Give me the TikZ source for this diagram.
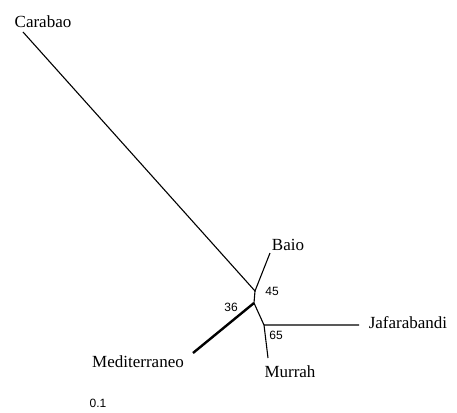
\documentclass[tikz,border=0pt]{standalone}
\usepackage{fontspec}
\setmainfont{Liberation Serif}
\newfontfamily\supportfont{Liberation Sans}
\usetikzlibrary{positioning}
\tikzset{taxon/.style={
    inner sep=0pt,
    font=\fontsize{17}{20}\selectfont
}}
\tikzset{support/.style={
    inner sep=0pt,
    font=\supportfont\fontsize{12}{14}\selectfont
}}
\tikzset{branch/.style={line width=1.1pt, black}}

\begin{document}
\begin{tikzpicture}[x=1pt, y=-1pt]
    \useasboundingbox (0,0) rectangle (457,412);
    % internal nodes and tips
    \coordinate (A) at (255,291);
    \coordinate (B) at (254,303);
    \coordinate (C) at (264,325);
    \coordinate (tCar) at (23,32);
    \coordinate (tBai) at (270,253);
    \coordinate (tMed) at (193,353);
    \coordinate (tJaf) at (359,325);
    \coordinate (tMur) at (268,358);
    % labels
    \node (car) [taxon] at (43,22)  {Carabao};
    \node (bai) [taxon] at (288,245) {Baio};
    \node (med) [taxon] at (138,362) {Mediterraneo};
    \node (jaf) [taxon] at (408,323) {Jafarabandi};
    \node (mur) [taxon] at (290,372) {Murrah};
    \node (s45) [support] at (272,291) {45};
    \node (s36) [support] at (231,307) {36};
    \node (s65) [support] at (276,335) {65};
    \node (scale) [support] at (98,403) {0.1};
    % branches
    \draw [branch] (tCar) -- (A) -- (tBai);
    \draw [branch] (A) -- (B) -- (C);
    \draw [branch, line width=2.4pt] (B) -- (tMed);
    \draw [branch] (tJaf) -- (C) -- (tMur);
\end{tikzpicture}
\end{document}
